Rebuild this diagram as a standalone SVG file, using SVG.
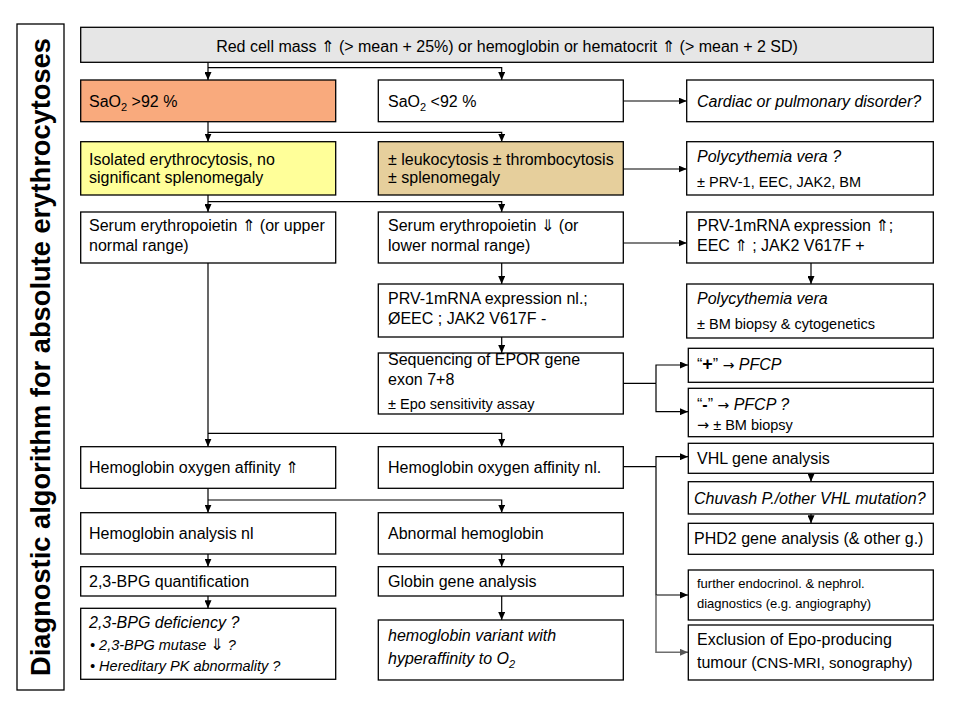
<svg xmlns="http://www.w3.org/2000/svg" width="960" height="720" viewBox="0 0 960 720">
<style>
.b{fill:#fff;stroke:#000;stroke-width:1.3}
.t{font-family:"Liberation Sans",Arial,"DejaVu Sans",sans-serif;font-size:16px;fill:#000}
.s{font-size:14.5px}
.xs{font-size:13px}
.i{font-style:italic}
.c{fill:none;stroke:#000;stroke-width:1.2}
.g{fill:none;stroke:#6e6e6e;stroke-width:1.6}
.ar{font-family:"DejaVu Sans",sans-serif;font-style:normal;fill:#000}
.ttl{font-size:27px;font-weight:bold}
</style>
<defs>
<marker id="a" markerUnits="userSpaceOnUse" markerWidth="8" markerHeight="7" refX="8" refY="3.5" orient="auto"><path d="M0,0 L8,3.5 L0,7 z" fill="#000"/></marker>
<marker id="ag" markerUnits="userSpaceOnUse" markerWidth="8" markerHeight="7" refX="8" refY="3.5" orient="auto"><path d="M0,0 L8,3.5 L0,7 z" fill="#555"/></marker>
</defs>
<rect width="960" height="720" fill="#fff"/>

<g id="title">
<rect x="17" y="24" width="47" height="666" fill="none" stroke="#000" stroke-width="1.3"/>
<text class="t ttl" transform="translate(50,357) rotate(-90)" text-anchor="middle" textLength="638" lengthAdjust="spacingAndGlyphs">Diagnostic algorithm for absolute erythrocytoses</text>
</g>

<g id="connectors">
<path class="c" d="M208,62.3 V80" marker-end="url(#a)"/>
<path class="c" d="M208,67.7 H501.7 V80" marker-end="url(#a)"/>
<path class="c" d="M623.3,101 H686.7" marker-end="url(#a)"/>
<path class="c" d="M208,121.7 V141.7" marker-end="url(#a)"/>
<path class="c" d="M208,132.3 H501.7 V141.7" marker-end="url(#a)"/>
<path class="c" d="M623.3,169 H686.7" marker-end="url(#a)"/>
<path class="c" d="M208,195 V212" marker-end="url(#a)"/>
<path class="c" d="M208,201.7 H501.7 V212" marker-end="url(#a)"/>
<path class="c" d="M623.3,243 H686.7" marker-end="url(#a)"/>
<path class="c" d="M811,263 V284" marker-end="url(#a)"/>
<path class="c" d="M501.7,263 V284" marker-end="url(#a)"/>
<path class="c" d="M501.7,337 V353" marker-end="url(#a)"/>
<path class="c" d="M623.3,383.3 H656"/>
<path class="c" d="M656,383.3 V365 H688" marker-end="url(#a)"/>
<path class="c" d="M656,383.3 V411.7 H688" marker-end="url(#a)"/>
<path class="c" d="M208,263 V446.7" marker-end="url(#a)"/>
<path class="c" d="M208,433.3 H501.7 V446.7" marker-end="url(#a)"/>
<path class="c" d="M623.3,466.7 H656"/>
<path class="c" d="M656,466.7 V456.7 H688" marker-end="url(#a)"/>
<path class="c" d="M656,466.7 V595 H688" marker-end="url(#a)"/>
<path class="g" d="M656,595 V652.3 H688" marker-end="url(#ag)"/>
<path class="c" d="M811,473.3 V481.7" marker-end="url(#a)"/>
<path class="c" d="M811,514 V523.3" marker-end="url(#a)"/>
<path class="c" d="M208,488.3 V512.7" marker-end="url(#a)"/>
<path class="c" d="M208,500 H501.7 V512.7" marker-end="url(#a)"/>
<path class="c" d="M208,554 V566.7" marker-end="url(#a)"/>
<path class="c" d="M208,596 V608.3" marker-end="url(#a)"/>
<path class="c" d="M501.7,554 V566.7" marker-end="url(#a)"/>
<path class="c" d="M501.7,596 V620" marker-end="url(#a)"/>
</g>

<g id="n-top">
<rect class="b" x="80.7" y="27.3" width="852.6" height="35" style="fill:#e6e6e6"/>
<text class="t" x="507" y="51.5" text-anchor="middle">Red cell mass <tspan class="ar">⇑</tspan> (&gt; mean + 25%) or hemoglobin or hematocrit <tspan class="ar">⇑</tspan> (&gt; mean + 2 SD)</text>
</g>

<g id="n-sao2-high">
<rect class="b" x="80.7" y="80" width="255" height="41.7" style="fill:#f9aa7d"/>
<text class="t" x="89" y="107">SaO<tspan style="font-size:11px" dy="4">2</tspan><tspan dy="-4"> &gt;92 %</tspan></text>
</g>
<g id="n-sao2-low">
<rect class="b" x="378.3" y="80" width="245" height="41.7"/>
<text class="t" x="388" y="107">SaO<tspan style="font-size:11px" dy="4">2</tspan><tspan dy="-4"> &lt;92 %</tspan></text>
</g>
<g id="n-cardiac">
<rect class="b" x="686.7" y="80" width="246.6" height="41.7"/>
<text class="t i" x="697" y="107">Cardiac or pulmonary disorder?</text>
</g>

<g id="n-isolated">
<rect class="b" x="80.7" y="141.7" width="255" height="53.3" style="fill:#ffff99"/>
<text class="t" x="89" y="164.5">Isolated erythrocytosis, no</text>
<text class="t" x="89" y="183">significant splenomegaly</text>
</g>
<g id="n-leuko">
<rect class="b" x="378.3" y="141.7" width="245" height="53.3" style="fill:#e6cf9c"/>
<text class="t" x="388" y="164.5">± leukocytosis ± thrombocytosis</text>
<text class="t" x="388" y="183">± splenomegaly</text>
</g>
<g id="n-pv-q">
<rect class="b" x="686.7" y="141.7" width="246.6" height="53.3"/>
<text class="t i" x="697" y="162">Polycythemia vera ?</text>
<text class="t s" x="697" y="186.5">± PRV-1, EEC, JAK2, BM</text>
</g>

<g id="n-epo-high">
<rect class="b" x="80.7" y="212" width="255" height="51"/>
<text class="t" x="89" y="231">Serum erythropoietin <tspan class="ar">⇑</tspan> (or upper</text>
<text class="t" x="89" y="251">normal range)</text>
</g>
<g id="n-epo-low">
<rect class="b" x="378.3" y="212" width="245" height="51"/>
<text class="t" x="388" y="231">Serum erythropoietin <tspan class="ar">⇓</tspan> (or</text>
<text class="t" x="388" y="251">lower normal range)</text>
</g>
<g id="n-prv-high">
<rect class="b" x="686.7" y="212" width="246.6" height="51"/>
<text class="t" x="697" y="231">PRV-1mRNA expression <tspan class="ar">⇑</tspan>;</text>
<text class="t" x="697" y="251">EEC <tspan class="ar">⇑</tspan> ; JAK2 V617F +</text>
</g>

<g id="n-prv-nl">
<rect class="b" x="378.3" y="284" width="245" height="53"/>
<text class="t" x="388" y="304">PRV-1mRNA expression nl.;</text>
<text class="t" x="388" y="324">ØEEC ; JAK2 V617F -</text>
</g>
<g id="n-pv">
<rect class="b" x="686.7" y="284" width="246.6" height="54"/>
<text class="t i" x="697" y="304">Polycythemia vera</text>
<text class="t s" x="697" y="329">± BM biopsy &amp; cytogenetics</text>
</g>

<g id="n-epor">
<rect class="b" x="378.3" y="353" width="245" height="61"/>
<text class="t" x="388" y="365">Sequencing of EPOR gene</text>
<text class="t" x="388" y="385">exon 7+8</text>
<text class="t s" x="388" y="409">±  Epo sensitivity assay</text>
</g>
<g id="n-pfcp-pos">
<rect class="b" x="688.3" y="348.3" width="245" height="34"/>
<text class="t" x="697" y="370">“<tspan style="font-weight:bold;font-size:18px">+</tspan>” <tspan class="ar" style="font-size:14px">→</tspan> <tspan class="i">PFCP</tspan></text>
</g>
<g id="n-pfcp-neg">
<rect class="b" x="688.3" y="388.3" width="245" height="48.4"/>
<text class="t" x="697" y="410">“<tspan style="font-weight:bold">-</tspan>” <tspan class="ar" style="font-size:14px">→</tspan> <tspan class="i">PFCP ?</tspan></text>
<text class="t s" x="697" y="430"><tspan class="ar">→</tspan> ± BM biopsy</text>
</g>

<g id="n-affinity-high">
<rect class="b" x="80.7" y="446.7" width="255" height="41.6"/>
<text class="t" x="89" y="473">Hemoglobin oxygen affinity <tspan class="ar">⇑</tspan></text>
</g>
<g id="n-affinity-nl">
<rect class="b" x="378.3" y="446.7" width="245" height="41.6"/>
<text class="t" x="388" y="473">Hemoglobin oxygen affinity nl.</text>
</g>
<g id="n-vhl">
<rect class="b" x="688.3" y="443.3" width="245" height="30"/>
<text class="t" x="697" y="464">VHL gene analysis</text>
</g>
<g id="n-chuvash">
<rect class="b" x="688.3" y="481.7" width="245" height="32.3"/>
<text class="t i" x="694" y="503.5">Chuvash P./other VHL mutation?</text>
</g>
<g id="n-phd2">
<rect class="b" x="688.3" y="523.3" width="245" height="31"/>
<text class="t" x="694" y="543.5">PHD2 gene analysis (&amp; other g.)</text>
</g>

<g id="n-hb-nl">
<rect class="b" x="80.7" y="512.7" width="255" height="41.3"/>
<text class="t" x="89" y="539">Hemoglobin analysis nl</text>
</g>
<g id="n-hb-abn">
<rect class="b" x="378.3" y="512.7" width="245" height="41.3"/>
<text class="t" x="388" y="539">Abnormal hemoglobin</text>
</g>
<g id="n-bpg">
<rect class="b" x="80.7" y="566.7" width="255" height="29.3"/>
<text class="t" x="89" y="587">2,3-BPG quantification</text>
</g>
<g id="n-globin">
<rect class="b" x="378.3" y="566.7" width="245" height="29.3"/>
<text class="t" x="388" y="587">Globin gene analysis</text>
</g>
<g id="n-endo">
<rect class="b" x="688.3" y="570" width="245" height="50"/>
<text class="t xs" x="697" y="588">further endocrinol. &amp; nephrol.</text>
<text class="t xs" x="697" y="608">diagnostics (e.g. angiography)</text>
</g>

<g id="n-bpg-def">
<rect class="b" x="80.7" y="608.3" width="255" height="71"/>
<text class="t i" x="89" y="628">2,3-BPG deficiency ?</text>
<text class="t i s" x="90" y="650">• 2,3-BPG mutase <tspan class="ar" style="font-size:16px">⇓</tspan> ?</text>
<text class="t i s" x="90" y="671">• Hereditary PK abnormality  ?</text>
</g>
<g id="n-variant">
<rect class="b" x="378.3" y="620" width="245" height="60"/>
<text class="t i" x="388" y="641">hemoglobin variant with</text>
<text class="t i" x="388" y="664">hyperaffinity to O<tspan style="font-size:11px" dy="4">2</tspan></text>
</g>
<g id="n-tumour">
<rect class="b" x="688.3" y="625" width="245" height="55"/>
<text class="t" x="697" y="645">Exclusion of Epo-producing</text>
<text class="t" x="697" y="668">tumour (<tspan style="font-size:15px">CNS-MRI, sonography)</tspan></text>
</g>
</svg>
